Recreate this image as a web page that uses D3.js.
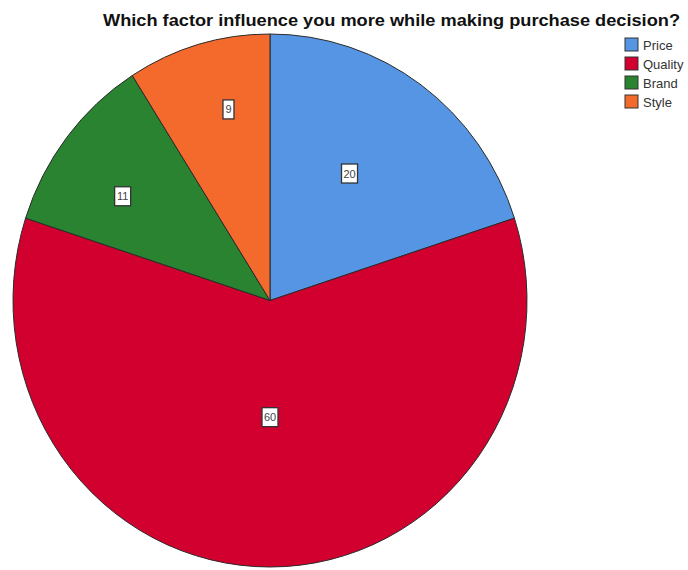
<!DOCTYPE html>
<html>
<head>
<meta charset="utf-8">
<script src="https://cdn.jsdelivr.net/npm/d3@7"></script>
<style>
  html, body { margin: 0; padding: 0; background: #fff; }
  svg { display: block; }
</style>
</head>
<body>
<svg id="chart" width="688" height="570"></svg>
<script>
// ---- data ----
const titleText = "Which factor influence you more while making purchase decision?";
const categories = ["Price", "Quality", "Brand", "Style"];
const values = [20, 60, 11, 9];
const colors = ["#5595e4", "#d2002f", "#2a8331", "#f46a2c"];

// ---- layout ----
const W = 688, H = 570;
const cx = 270, cy = 300.5;
const R = 257;
const yStretch = 266.5 / 257;
// small angular nudges (degrees) for the value-label boxes, in slice order
const labelNudgeDeg = [-3, 0, -3.5, 3.5];

const svg = d3.select("#chart");

// title
svg.append("text")
  .attr("x", 391.5).attr("y", 26)
  .attr("text-anchor", "middle")
  .attr("font-family", "Liberation Sans, Arial, sans-serif")
  .attr("font-weight", "bold")
  .attr("font-size", 16)
  .attr("fill", "#111")
  .attr("textLength", 577)
  .attr("lengthAdjust", "spacingAndGlyphs")
  .text(titleText);

const data = categories.map((c, i) => ({ cat: c, value: values[i], color: colors[i] }));

const pie = d3.pie().value(d => d.value).sort(null);
const arcs = pie(data);
const arcGen = d3.arc().innerRadius(0).outerRadius(R);

const g = svg.append("g")
  .attr("transform", `translate(${cx},${cy}) scale(1,${yStretch})`);

g.selectAll("path.slice")
  .data(arcs)
  .enter().append("path")
  .attr("class", "slice")
  .attr("d", arcGen)
  .attr("fill", d => d.data.color)
  .attr("stroke", "#2b2b2b")
  .attr("stroke-width", 1)
  .attr("vector-effect", "non-scaling-stroke");

// value labels
const lg = svg.append("g");
arcs.forEach((a, i) => {
  const span = (a.endAngle - a.startAngle) * 180 / Math.PI;
  const f = 0.43 + 0.32 * Math.exp(-(span - 30) / 50);
  const mid = (a.startAngle + a.endAngle) / 2 + labelNudgeDeg[i] * Math.PI / 180;
  const r = R * f;
  const x = cx + r * Math.sin(mid);
  const y = cy - r * Math.cos(mid) * yStretch;
  const label = String(a.data.value);
  const bw = label.length > 1 ? 16 : 11;
  const bh = 19;
  lg.append("rect")
    .attr("x", x - bw / 2).attr("y", y - bh / 2)
    .attr("width", bw).attr("height", bh)
    .attr("fill", "#fff")
    .attr("stroke", "#333")
    .attr("stroke-width", 1.3);
  lg.append("text")
    .attr("x", x).attr("y", y + 4)
    .attr("text-anchor", "middle")
    .attr("font-family", "Liberation Sans, Arial, sans-serif")
    .attr("font-size", 11)
    .attr("fill", "#444")
    .text(label);
});

// legend
const leg = svg.append("g").attr("transform", "translate(625,38)");
data.forEach((d, i) => {
  const row = leg.append("g").attr("transform", `translate(0,${i * 19})`);
  row.append("rect")
    .attr("x", 0).attr("y", 0)
    .attr("width", 13).attr("height", 13)
    .attr("fill", d.color)
    .attr("stroke", "#333")
    .attr("stroke-width", 1);
  row.append("text")
    .attr("x", 18).attr("y", 12)
    .attr("font-family", "Liberation Sans, Arial, sans-serif")
    .attr("font-size", 13)
    .attr("fill", "#333")
    .text(d.cat);
});
</script>
</body>
</html>
